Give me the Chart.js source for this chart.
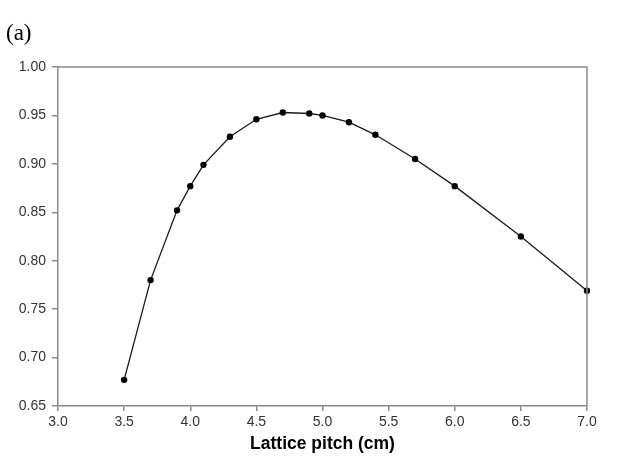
<!DOCTYPE html>
<html>
<head>
<meta charset="UTF-8">
<title>Lattice pitch</title>
<script src="https://cdn.jsdelivr.net/npm/chart.js"></script>
<style>
    body { margin: 0; background: #fff; }
    #wrap { width: 630px; height: 461px; position: relative; }
</style>
</head>
<body>
<div id="wrap"><canvas id="chart" width="630" height="461"></canvas></div>
<script>
    // values
    const pitch = [3.5, 3.7, 3.9, 4.0, 4.1, 4.3, 4.5, 4.7, 4.9, 5.0, 5.2, 5.4, 5.7, 6.0, 6.5, 7.0];
    const value = [0.677, 0.780, 0.852, 0.877, 0.899, 0.928, 0.946, 0.953, 0.952, 0.950, 0.943, 0.930, 0.905, 0.877, 0.825, 0.769];
    const xTicks = ['3.0', '3.5', '4.0', '4.5', '5.0', '5.5', '6.0', '6.5', '7.0'];
    const yTicks = ['0.65', '0.70', '0.75', '0.80', '0.85', '0.90', '0.95', '1.00'];

    const axisGray = '#8a8a8a';

    // box on top/right plus the "(a)" panel label
    const extras = {
        id: 'extras',
        afterDraw(chart) {
            const c = chart.ctx, a = chart.chartArea;
            c.save();
            c.strokeStyle = axisGray;
            c.lineWidth = 1.5;
            c.beginPath();
            c.moveTo(a.left, a.top);
            c.lineTo(a.right, a.top);
            c.lineTo(a.right, a.bottom);
            c.stroke();
            c.fillStyle = '#000';
            c.font = '23px "Liberation Serif", serif';
            c.textBaseline = 'alphabetic';
            c.fillText('(a)', 6, 40);
            c.restore();
        },
        // redraw the line on top of the right border like the original
        beforeDatasetsDraw(chart) {}
    };

    new Chart(document.getElementById('chart'), {
        type: 'scatter',
        data: {
            datasets: [{
                data: pitch.map((p, i) => ({ x: p, y: value[i] })),
                showLine: true,
                borderColor: '#1a1a1a',
                borderWidth: 1.3,
                backgroundColor: '#000',
                pointRadius: 3.2,
                pointBorderWidth: 0,
                tension: 0,
                clip: false
            }]
        },
        options: {
            responsive: false,
            animation: false,
            layout: { padding: { top: 67, right: 43, left: 0, bottom: 0 } },
            plugins: { legend: { display: false }, tooltip: { enabled: false } },
            scales: {
                x: {
                    type: 'linear', min: 3, max: 7,
                    afterFit(s) { s.height = 55; },
                    afterBuildTicks(s) { s.ticks = xTicks.map(t => ({ value: +t })); },
                    ticks: {
                        callback: (v) => Number(v).toFixed(1),
                        color: '#333', font: { family: 'Arial, "Liberation Sans"', size: 14 }, padding: 3,
                        maxRotation: 0, autoSkip: false
                    },
                    grid: { drawOnChartArea: false, drawTicks: true, tickLength: 5, tickColor: axisGray, lineWidth: 1.5 },
                    border: { color: axisGray, width: 1.5 },
                    title: {
                        display: true, text: 'Lattice pitch (cm)', color: '#000',
                        font: { family: 'Arial, "Liberation Sans"', size: 17.5, weight: 'bold' },
                        padding: { top: 0, bottom: 6 }
                    }
                },
                y: {
                    type: 'linear', min: 0.65, max: 1.0,
                    afterFit(s) { s.width = 58; },
                    afterBuildTicks(s) { s.ticks = yTicks.map(t => ({ value: +t })); },
                    ticks: {
                        callback: (v) => Number(v).toFixed(2),
                        color: '#333', font: { family: 'Arial, "Liberation Sans"', size: 14 }, padding: 6,
                        autoSkip: false
                    },
                    grid: { drawOnChartArea: false, drawTicks: true, tickLength: 6, tickColor: axisGray, lineWidth: 1.5 },
                    border: { color: axisGray, width: 1.5 }
                }
            }
        },
        plugins: [extras]
    });
</script>
</body>
</html>
